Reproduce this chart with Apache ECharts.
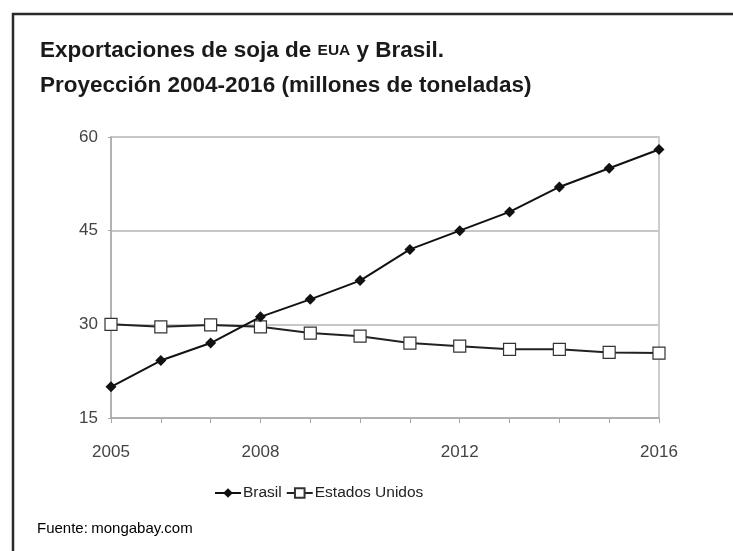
<!DOCTYPE html>
<html><head><meta charset="utf-8">
<script src="https://cdn.jsdelivr.net/npm/echarts@6/dist/echarts.min.js"></script>
<style>html,body{margin:0;padding:0;background:#fff}#c{width:733px;height:551px}</style>
</head><body><div id="c"></div>
<script>
var years = ['2005','2006','2007','2008','2009','2010','2011','2012','2013','2014','2015','2016'];
var shownYears = ['2005','2008','2012','2016'];
var brasil = [20, 24.2, 27, 31.2, 34, 37, 42, 45, 48, 52, 55, 58];
var eeuu = [30, 29.6, 29.9, 29.6, 28.6, 28.1, 27, 26.5, 26, 26, 25.5, 25.4];
var yTicks = [15, 30, 45, 60];

var ff = '"Liberation Sans", Arial, sans-serif';
var chart = echarts.init(document.getElementById('c'));
chart.setOption({
  animation: false,
  backgroundColor: '#fff',
  title: {
    left: 35, top: 28,
    text: '{a|Exportaciones de soja de }{s|EUA}{a| y Brasil.}\n{a|Proyección 2004-2016 (millones de toneladas)}',
    textStyle: {
      rich: {
        a: {fontFamily: ff, fontWeight: 'bold', fontSize: 22.5, color: '#1a1a1a', lineHeight: 35},
        s: {fontFamily: ff, fontWeight: 'bold', fontSize: 15.5, color: '#1a1a1a', lineHeight: 35}
      }
    }
  },
  graphic: [
    {type: 'polyline', shape: {points: [[13, 551], [13, 14], [733, 14]]}, style: {stroke: '#2a2a2a', lineWidth: 2.5, fill: null}},
    {type: 'text', left: 37, top: 521, style: {
      text: '{b|Fuente:} {n|mongabay.com}',
      rich: {
        b: {fontFamily: ff, fontSize: 15, color: '#222'},
        n: {fontFamily: ff, fontSize: 15, color: '#555'}
      }
    }}
  ],
  legend: {
    top: 480, left: 209,
    itemWidth: 26, itemHeight: 12, itemGap: 4,
    textStyle: {fontFamily: ff, fontSize: 15.5, color: '#222', padding: [0, 0, 0, -3]},
    data: ['Brasil', 'Estados Unidos']
  },
  grid: {left: 111, right: 74, top: 137, bottom: 133, show: true, borderColor: '#bdbdbd', borderWidth: 1.5},
  xAxis: {
    type: 'category', data: years, boundaryGap: false,
    axisLine: {lineStyle: {color: '#a8a8a8', width: 1.5}},
    axisTick: {show: true, length: 5, inside: false, interval: 0, lineStyle: {color: '#a8a8a8'}},
    axisLabel: {
      margin: 26, fontFamily: ff, fontSize: 17, color: '#444',
      interval: function (i, v) { return shownYears.indexOf(v) >= 0; }
    },
    splitLine: {show: false}
  },
  yAxis: {
    type: 'value', min: yTicks[0], max: yTicks[yTicks.length - 1], interval: 15,
    axisLine: {show: true, lineStyle: {color: '#a8a8a8', width: 1.5}},
    axisTick: {show: true, length: 3, lineStyle: {color: '#a8a8a8'}},
    axisLabel: {margin: 13, fontFamily: ff, fontSize: 17, color: '#444'},
    splitLine: {show: true, lineStyle: {color: '#c8c8c8', width: 2}}
  },
  series: [
    {name: 'Brasil', type: 'line', data: brasil, symbol: 'diamond', symbolSize: 11,
     itemStyle: {color: '#111'}, lineStyle: {color: '#111', width: 2}, z: 3},
    {name: 'Estados Unidos', type: 'line', data: eeuu, symbol: 'rect', symbolSize: 12,
     itemStyle: {color: '#fff', borderColor: '#333', borderWidth: 1.2}, lineStyle: {color: '#222', width: 2}, z: 2}
  ]
});
</script></body></html>
